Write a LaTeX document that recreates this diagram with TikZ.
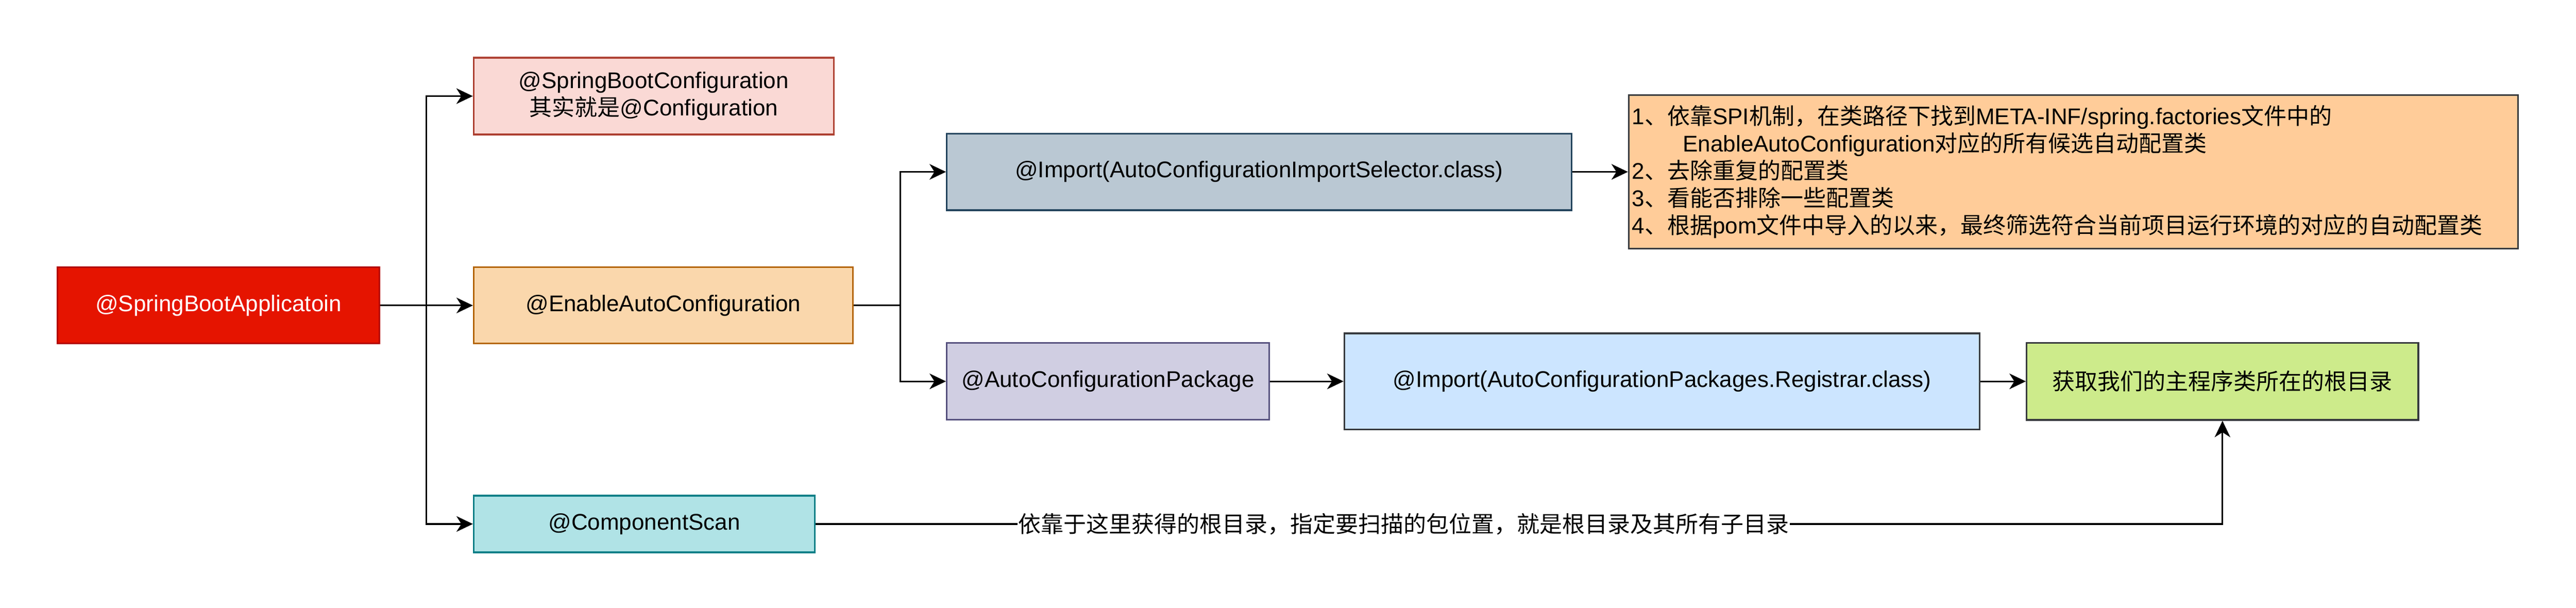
\documentclass[tikz,border=0pt]{standalone}
\usepackage{fontspec}
\setmainfont{Liberation Sans}
\newfontfamily\cjkfont{Noto Sans CJK SC}
\usepackage{tikz}
\usepackage{xcolor}
\usetikzlibrary{arrows.meta}
\definecolor{appfill}{HTML}{E51400}
\definecolor{appline}{HTML}{B20000}
\definecolor{cfgfill}{HTML}{FAD9D5}
\definecolor{cfgline}{HTML}{AE4132}
\definecolor{enafill}{HTML}{FAD7AC}
\definecolor{enaline}{HTML}{B46504}
\definecolor{scanfill}{HTML}{B0E3E6}
\definecolor{scanline}{HTML}{0E8088}
\definecolor{selfill}{HTML}{BAC8D3}
\definecolor{selline}{HTML}{23445D}
\definecolor{pkgfill}{HTML}{D0CEE2}
\definecolor{pkgline}{HTML}{56517E}
\definecolor{regfill}{HTML}{CCE5FF}
\definecolor{notefill}{HTML}{FFCC99}
\definecolor{rootfill}{HTML}{CDEB8B}
\definecolor{darkline}{HTML}{36393D}
\newcommand{\zh}[1]{{\cjkfont #1}}

\begin{document}
\begin{tikzpicture}[x=1pt,y=-1pt,
box/.style={draw,line width=1pt,font=\fontsize{13.8}{16.6}\selectfont,align=center,inner sep=2pt},
arr/.style={line width=1pt,-{Stealth[length=10pt,width=9.5pt,inset=3pt]}}]
\useasboundingbox (0,0) rectangle (1568,369.8);
\node[box,fill=appfill,draw=appline,text=white,minimum width=196pt,minimum height=46.4pt] (app) at (133,185.9) {@SpringBootApplicatoin};
\node[box,fill=cfgfill,draw=cfgline,minimum width=219.2pt,minimum height=46.7pt] (cfg) at (397.9,58.5) {@SpringBootConfiguration\\\zh{其实就是}@Configuration};
\node[box,fill=enafill,draw=enaline,minimum width=230.7pt,minimum height=46.4pt] (enable) at (403.7,185.9) {@EnableAutoConfiguration};
\node[box,fill=scanfill,draw=scanline,minimum width=207.7pt,minimum height=34.5pt] (scan) at (392.2,318.9) {@ComponentScan};
\node[box,fill=selfill,draw=selline,minimum width=380.2pt,minimum height=46.7pt] (sel) at (766.4,104.6) {@Import(AutoConfigurationImportSelector.class)};
\node[box,fill=pkgfill,draw=pkgline,minimum width=196.2pt,minimum height=46.7pt] (pkg) at (674.4,232.1) {@AutoConfigurationPackage};
\node[box,fill=regfill,draw=darkline,minimum width=386.8pt,minimum height=58.4pt] (reg) at (1011.7,232.1) {@Import(AutoConfigurationPackages.Registrar.class)};
\node[box,fill=notefill,draw=darkline,minimum width=541.4pt,minimum height=93.3pt,text width=537.4pt,align=left] (note) at (1262.1,104.6) {1\zh{、依靠}SPI\zh{机制，在类路径下找到}META-INF/spring.factories\zh{文件中的}\\\hspace*{31pt}EnableAutoConfiguration\zh{对应的所有候选自动配置类}\\2\zh{、去除重复的配置类}\\3\zh{、看能否排除一些配置类}\\4\zh{、根据}pom\zh{文件中导入的以来，最终筛选符合当前项目运行环境的对应的自动配置类}};
\node[box,fill=rootfill,draw=darkline,minimum width=238.4pt,minimum height=47pt] (root) at (1352.8,232.1) {\zh{获取我们的主程序类所在的根目录}};
\coordinate (t1) at (259.5,185.9);
\coordinate (t2) at (548.1,185.9);
\draw[arr] (app.east) -- (enable.west);
\draw[arr] (t1) |- (cfg.west);
\draw[arr] (t1) |- (scan.west);
\draw[line width=1pt] (enable.east) -- (t2);
\draw[arr] (t2) |- (sel.west);
\draw[arr] (t2) |- (pkg.west);
\draw[arr] (sel.east) -- (note.west);
\draw[arr] (pkg.east) -- (reg.west);
\draw[arr] (reg.east) -- (root.west);
\draw[arr] (scan.east) -| node[pos=0.209,fill=white,inner sep=0.5pt,font=\fontsize{13.8}{16.6}\selectfont] (scanlabel) {\zh{依靠于这里获得的根目录，指定要扫描的包位置，就是根目录及其所有子目录}} (root.south);
\end{tikzpicture}
\end{document}
